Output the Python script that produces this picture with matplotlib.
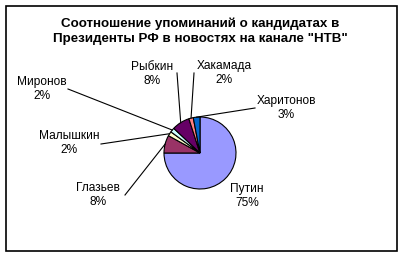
import numpy as np
import matplotlib
matplotlib.use("Agg")
import matplotlib.pyplot as plt
from matplotlib.patches import Rectangle

names = ["Путин", "Глазьев", "Малышкин", "Миронов", "Рыбкин", "Хакамада", "Харитонов"]
values = [75, 8, 2, 2, 8, 2, 3]
colors = ["#9999FF", "#993366", "#FFFFCC", "#CCFFFF", "#660066", "#FF8080", "#0066CC"]
title = "Соотношение упоминаний о кандидатах в\nПрезиденты РФ в новостях на канале \"НТВ\""

W, H = 403, 256
plt.rcParams['font.family'] = ['Liberation Sans', 'DejaVu Sans']
fig = plt.figure(figsize=(W / 100, H / 100), dpi=100)
ax = fig.add_axes([0, 0, 1, 1])
ax.set_xlim(0, W)
ax.set_ylim(0, H)
ax.set_aspect('equal')
ax.axis('off')

def Y(y):
    return H - y

cx, cy, r = 200, 153, 36
wedges, _ = ax.pie(values, colors=colors, startangle=90, counterclock=False,
                   center=(cx, Y(cy)), radius=r, frame=True,
                   wedgeprops=dict(edgecolor='black', linewidth=0.8))
ax.set_xlim(0, W)
ax.set_ylim(0, H)
ax.axis('off')

ax.add_patch(Rectangle((5.5, Y(251)), 391.5, 245.5, fill=False, edgecolor='black', linewidth=1.2))

ax.text(W / 2 - 1, Y(31), title, ha='center', va='center', fontsize=9.6,
        fontweight='bold', linespacing=1.35)

label_pos = [(247, 196), (98, 195), (69, 143), (42, 89), (152, 74), (224, 73), (286, 108)]
line_start = [None, (125, 195), (101, 144), (68, 89), (177, 73), (194, 73), (255, 108)]
total = sum(values)
for w, n, v, lp, ls in zip(wedges, names, values, label_pos, line_start):
    pct = int(round(100 * v / total))
    ax.text(lp[0], Y(lp[1]), f"{n}\n{pct}%", ha='center', va='center',
            fontsize=8.6, linespacing=1.3)
    if ls is not None:
        mid = np.deg2rad((w.theta1 + w.theta2) / 2)
        ex, ey = cx + r * np.cos(mid), Y(cy) + r * np.sin(mid)
        ax.plot([ls[0], ex], [Y(ls[1]), ey], color='black', linewidth=0.8)

fig.savefig("out.png", dpi=100)
